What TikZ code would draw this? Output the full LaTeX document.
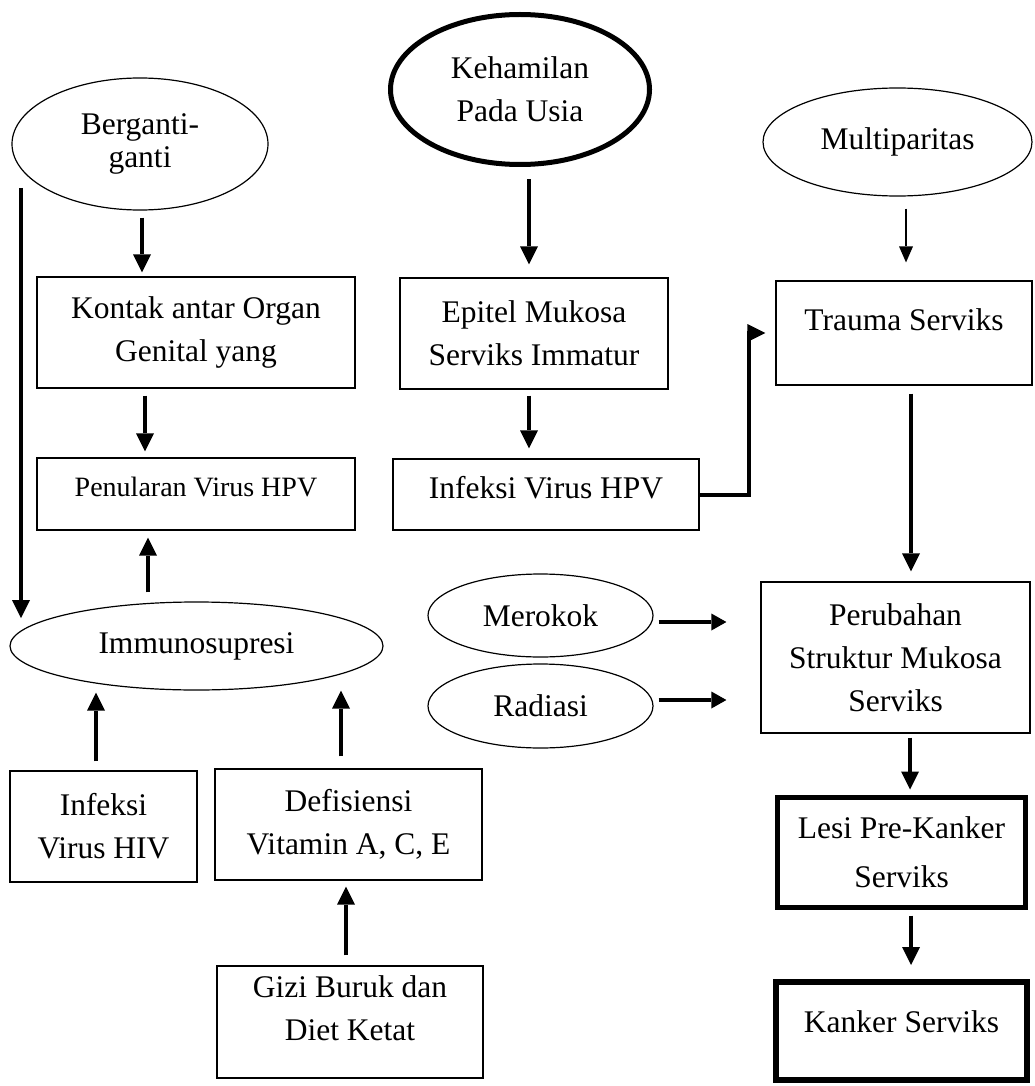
\documentclass[tikz,border=0pt]{standalone}
\usepackage{fontspec}
\setmainfont{Liberation Serif}
\usetikzlibrary{arrows.meta,shapes.geometric}
\begin{document}
\begin{tikzpicture}[x=1pt,y=-1pt,
  every node/.style={font=\fontsize{31.5}{43}\selectfont, align=center, inner sep=0pt},
  box/.style={draw, rectangle, line width=1.2pt},
  ell/.style={draw, ellipse, line width=1.2pt},
  arr/.style={line width=4pt, -{Triangle[length=18pt,width=18pt,line width=0pt]}},
  arrthin/.style={line width=2pt, -{Triangle[length=16pt,width=14pt,line width=0pt]}},
  arrside/.style={line width=4pt, -{Triangle[length=15pt,width=17pt,line width=0pt]}},
]
\useasboundingbox (0,0) rectangle (1035,1086);

% left column
\node[ell, minimum width=256pt, minimum height=132pt, font=\fontsize{31.5}{33}\selectfont] (berg) at (140,144) {Berganti-\\ganti};
\node[box, minimum width=318pt, minimum height=111pt] (kontak) at (196,332.5) {Kontak antar Organ\\Genital yang};
\node[box, minimum width=318pt, minimum height=72pt,
  label={[name=penulT, font=\fontsize{28}{34}\selectfont, yshift=7pt]center:Penularan Virus HPV}] (penul) at (196,494) {};
\node[ell, minimum width=373pt, minimum height=88pt] (imm) at (196.5,646) {Immunosupresi};
\node[box, minimum width=187pt, minimum height=111pt] (hiv) at (103.5,826.5) {Infeksi\\Virus HIV};
\node[box, minimum width=267pt, minimum height=111pt] (def) at (348.5,824.5) {Defisiensi\\Vitamin A, C, E};
\node[box, minimum width=266pt, minimum height=112pt,
  label={[name=giziT, yshift=13.5pt]center:Gizi Buruk dan\\Diet Ketat}] (gizi) at (350,1022) {};

% middle column
\node[ell, line width=5pt, minimum width=259pt, minimum height=150pt] (keh) at (520,89.5) {Kehamilan\\Pada Usia};
\node[box, minimum width=268pt, minimum height=111pt] (epitel) at (534,333.5) {Epitel Mukosa\\Serviks Immatur};
\node[box, minimum width=306pt, minimum height=71pt,
  label={[name=hpvT, yshift=6.5pt]center:Infeksi Virus HPV}] (hpv) at (546,494.5) {};
\node[ell, minimum width=225pt, minimum height=83pt] (merokok) at (540.5,615.5) {Merokok};
\node[ell, minimum width=225pt, minimum height=84pt] (radiasi) at (540.5,706) {Radiasi};

% right column
\node[ell, minimum width=269pt, minimum height=108pt] (multi) at (897.5,142) {Multiparitas};
\node[box, minimum width=256pt, minimum height=104pt,
  label={[name=traumaT, yshift=13pt]center:Trauma Serviks}] (trauma) at (904,333) {};
\node[box, minimum width=269pt, minimum height=151pt] (perub) at (895.5,657.5) {Perubahan\\Struktur Mukosa\\Serviks};
\node[box, line width=5pt, minimum width=248pt, minimum height=110pt, font=\fontsize{31.5}{49}\selectfont] (lesi) at (901.5,852.5) {Lesi Pre-Kanker\\Serviks};
\node[box, line width=6pt, minimum width=251pt, minimum height=98pt,
  label={[name=kankerT, yshift=9pt]center:Kanker Serviks}] (kanker) at (901.5,1031) {};

% connectors, left
\draw[arr, shorten <=7pt, shorten >=4pt] (142,0 |- berg.south) -- (142,0 |- kontak.north);
\draw[arr, shorten <=7pt, shorten >=6pt] (145,0 |- kontak.south) -- (145,0 |- penul.north);
\draw[arr, shorten <=9pt, shorten >=7pt] (148,0 |- imm.north) -- (148,0 |- penul.south);
\coordinate (lstart) at (21,188);
\draw[arr, shorten >=28pt] (lstart) -- (lstart |- imm.west);
\draw[arr, shorten <=9pt, shorten >=2pt] (96,0 |- hiv.north) -- (96,0 |- imm.south);
\draw[arr, shorten <=12pt] (341,0 |- def.north) -- (341,0 |- imm.south);
\draw[arr, shorten <=10pt, shorten >=6pt] (346,0 |- gizi.north) -- (346,0 |- def.south);

% connectors, middle
\draw[arr, shorten <=12.5pt, shorten >=13pt] (529,0 |- keh.south) -- (529,0 |- epitel.north);
\draw[arr, shorten <=6pt, shorten >=10pt] (529,0 |- epitel.south) -- (529,0 |- hpv.north);
\draw[arr, shorten >=10pt] (hpv.east) -- ++(49,0) |- (trauma.west);
\draw[arrside, shorten <=5pt, shorten >=34pt] (merokok.east |- 0,622) -- (perub.west |- 0,622);
\draw[arrside, shorten <=5pt, shorten >=34pt] (radiasi.east |- 0,700) -- (perub.west |- 0,700);

% connectors, right
\draw[arrthin, shorten <=12pt, shorten >=18pt] (906,0 |- multi.south) -- (906,0 |- trauma.north);
\draw[arr, shorten <=8pt, shorten >=10pt] (911,0 |- trauma.south) -- (911,0 |- perub.north);
\draw[arr, shorten <=4pt, shorten >=5.5pt] (910,0 |- perub.south) -- (910,0 |- lesi.north);
\draw[arr, shorten <=5.5pt, shorten >=14pt] (911,0 |- lesi.south) -- (911,0 |- kanker.north);
\end{tikzpicture}
\end{document}
